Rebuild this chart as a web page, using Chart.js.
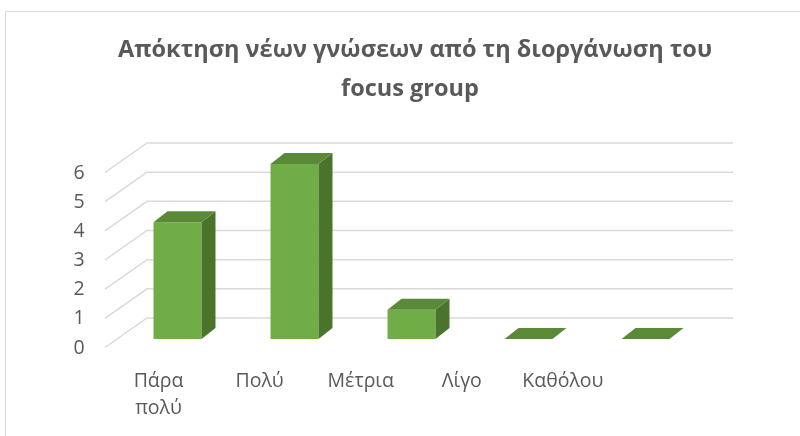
<!DOCTYPE html>
<html>
<head>
<meta charset="utf-8">
<script src="https://cdn.jsdelivr.net/npm/chart.js@4.4.1/dist/chart.umd.min.js"></script>
<style>
html,body{margin:0;padding:0;background:#fff}
#wrap{width:800px;height:436px}
</style>
</head>
<body>
<div id="wrap"><canvas id="c" width="800" height="436"></canvas></div>
<script>
// data
const TITLE = ['Απόκτηση νέων γνώσεων από τη διοργάνωση του', 'focus group'];
const CATEGORIES = [['Πάρα', 'πολύ'], 'Πολύ', 'Μέτρια', 'Λίγο', 'Καθόλου'];
const VALUES = [4, 6, 1, 0, 0];
const Y_TICKS = [0, 1, 2, 3, 4, 5, 6];

const TEXT = '#595959';
const GRID = '#d9d9d9';
const FRONT = '#70ad47', TOP = '#5a8a37', SIDE = '#4a742c';
const DX = 14, DY = -11; // bar depth

const bar3d = {
  id: 'bar3d',
  beforeDatasetsDraw(chart) {
    const {ctx, chartArea: a, scales: {y}} = chart;
    ctx.save();
    // card border
    ctx.strokeStyle = GRID; ctx.lineWidth = 1;
    ctx.strokeRect(5.5, 11.5, 820, 460);
    // walls: front slant + back lines
    ctx.strokeStyle = GRID; ctx.lineWidth = 1.5;
    Y_TICKS.forEach(v => {
      const py = y.getPixelForValue(v);
      ctx.beginPath();
      ctx.moveTo(a.left - 14, py + 8.5);
      ctx.lineTo(a.left + 28, py - 21);
      ctx.lineTo(a.right + 29, py - 21);
      ctx.stroke();
    });
    ctx.restore();
  },
  afterDatasetsDraw(chart) {
    const ctx = chart.ctx;
    ctx.save();
    chart.getDatasetMeta(0).data.forEach(b => {
      const l = b.x - b.width / 2, r = b.x + b.width / 2, t = b.y, base = b.base;
      if (base - t > 0.5) {
        ctx.fillStyle = SIDE;
        ctx.beginPath();
        ctx.moveTo(r, t); ctx.lineTo(r + DX, t + DY); ctx.lineTo(r + DX, base + DY); ctx.lineTo(r, base);
        ctx.closePath(); ctx.fill();
      }
      ctx.fillStyle = TOP;
      ctx.beginPath();
      ctx.moveTo(l, t); ctx.lineTo(l + DX, t + DY); ctx.lineTo(r + DX, t + DY); ctx.lineTo(r, t);
      ctx.closePath(); ctx.fill();
    });
    ctx.restore();
  },
  afterDraw(chart) {
    const {ctx, chartArea: a, scales: {y}} = chart;
    ctx.save();
    ctx.fillStyle = TEXT;
    ctx.textAlign = 'center';
    ctx.textBaseline = 'middle';
    // title
    ctx.font = 'bold 23.5px "Open Sans"';
    ctx.fillText(TITLE[0], 415, 50);
    ctx.fillText(TITLE[1], 410, 89);
    // value axis
    ctx.font = '19.5px "Open Sans"';
    Y_TICKS.forEach(v => ctx.fillText(String(v), a.left - 40, y.getPixelForValue(v) + 9));
    // category axis (front plane, perspective-shrunk)
    chart.getDatasetMeta(0).data.forEach((b, i) => {
      const lx = a.left + (b.x - a.left) * 0.864 - 11;
      const lines = [].concat(CATEGORIES[i]);
      lines.forEach((s, k) => ctx.fillText(s, lx, a.bottom + 42 + k * 27));
    });
    ctx.restore();
  }
};

new Chart(document.getElementById('c'), {
  type: 'bar',
  data: {
    labels: CATEGORIES,
    datasets: [{
      data: VALUES,
      backgroundColor: FRONT,
      borderWidth: 0,
      barPercentage: 0.41,
      categoryPercentage: 1
    }]
  },
  options: {
    responsive: false,
    animation: false,
    layout: {padding: {left: 119, right: 96, top: 164, bottom: 97}},
    scales: {
      x: {display: false},
      y: {display: false, min: 0, max: 6}
    },
    plugins: {legend: {display: false}, tooltip: {enabled: false}, title: {display: false}}
  },
  plugins: [bar3d]
});
</script>
</body>
</html>
